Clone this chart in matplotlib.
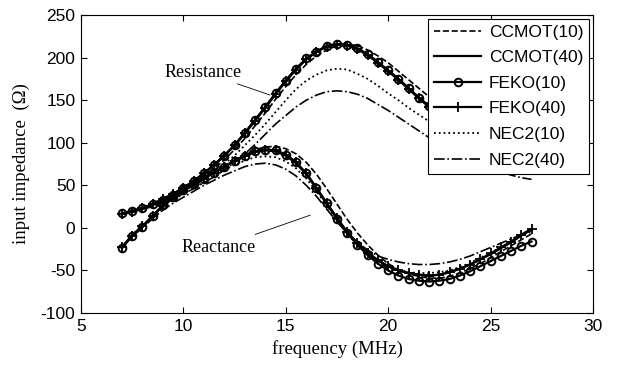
import numpy as np
import matplotlib
matplotlib.use("Agg")
import matplotlib.pyplot as plt

plt.rcParams["axes.unicode_minus"] = False

# frequency grid (MHz)
freq = np.arange(7, 27.5, 0.5)

# resistance (ohm)
ccmot10_r = [16, 19, 22, 26, 31, 37, 44, 52, 61, 70, 80, 92, 105, 120, 135, 151, 166, 180, 192, 202,
             209, 214, 216, 214, 209, 202, 194, 184, 174, 164, 154, 144, 135, 126, 118, 111, 104, 98, 92, 87, 83]
ccmot40_r = [17, 20, 23.5, 28, 34, 40, 47, 55, 64, 74, 85, 97, 111, 126, 142, 158, 173, 187, 198, 207,
             213, 216, 215, 210, 203, 194, 185, 175, 164, 153, 143, 133, 124, 116, 108, 101, 95, 89, 84, 79, 75]
feko10_r = [17, 20, 23, 28, 33, 39, 47, 55, 64, 74, 85, 97, 112, 127, 142, 158, 173, 187, 199, 207,
            214, 216, 215, 211, 204, 195, 185, 175, 164, 153, 143, 133, 124, 116, 108, 101, 95, 89, 84, 79, 75]
feko40_r = [16, 19, 23, 28, 34, 40, 47, 55, 64, 74, 85, 97, 111, 126, 141, 157, 172, 186, 198, 207,
            213, 215, 214, 210, 203, 194, 184, 174, 163, 152, 142, 132, 123, 115, 107, 100, 94, 88, 83, 78, 74]
nec10_r = [17, 19, 22, 26, 31, 37, 43, 50, 58, 66, 75, 85, 97, 109, 122, 136, 150, 163, 173, 180,
           185, 187, 186, 181, 175, 167, 158, 150, 141, 133, 125, 117, 109, 102, 95, 88, 82, 76, 71, 67, 64]
nec40_r = [17, 19, 22, 25, 30, 35, 40, 46, 53, 60, 68, 77, 87, 98, 110, 122, 132, 142, 150, 156,
           160, 161, 160, 157, 152, 145, 138, 130, 122, 114, 106, 99, 92, 86, 80, 75, 70, 66, 62, 59, 57]

# reactance (ohm)
ccmot10_x = [-22, -9, 1, 13, 25, 35, 43, 50, 57, 64, 71, 79, 86, 92, 95, 96, 93, 87, 77, 63,
             46, 28, 10, -6, -20, -32, -42, -49, -54, -57, -59, -59, -57, -53, -48, -42, -35, -28, -21, -14, -7]
ccmot40_x = [-23, -8, 2, 14, 26, 36, 44, 51, 58, 65, 72, 78, 84, 89, 91, 90, 85, 76, 63, 46,
             28, 11, -5, -18, -29, -38, -45, -50, -53, -55, -56, -55, -52, -48, -43, -37, -31, -24, -17, -9, -2]
feko10_x = [-24, -9, 1, 14, 27, 36, 44, 51, 58, 65, 72, 79, 85, 90, 92, 91, 86, 77, 64, 47,
            29, 11, -6, -20, -32, -42, -50, -56, -60, -62, -63, -62, -60, -56, -51, -45, -39, -33, -27, -21, -16]
feko40_x = [-23, -9, 2, 14, 26, 36, 44, 51, 58, 65, 72, 79, 85, 90, 92, 91, 86, 77, 64, 47,
            29, 12, -5, -18, -29, -38, -45, -50, -53, -55, -56, -55, -52, -48, -43, -37, -30, -23, -16, -8, -1]
nec10_x = [-23, -9, 1, 13, 24, 33, 40, 47, 54, 61, 68, 74, 79, 83, 84, 83, 78, 70, 58, 43,
           26, 9, -7, -20, -31, -39, -45, -49, -52, -53, -53, -52, -50, -46, -41, -35, -29, -23, -16, -10, -4]
nec40_x = [-23, -10, 0, 11, 21, 29, 36, 43, 50, 56, 62, 67, 72, 75, 76, 74, 69, 61, 50, 37,
           22, 7, -6, -17, -26, -33, -37, -40, -42, -43, -43, -42, -40, -37, -33, -28, -23, -18, -13, -8, -3]

labels = ["CCMOT(10)", "CCMOT(40)", "FEKO(10)", "FEKO(40)", "NEC2(10)", "NEC2(40)"]
res = [ccmot10_r, ccmot40_r, feko10_r, feko40_r, nec10_r, nec40_r]
rea = [ccmot10_x, ccmot40_x, feko10_x, feko40_x, nec10_x, nec40_x]
styles = [
    dict(ls="--", lw=1.2),
    dict(ls="-", lw=1.6),
    dict(ls="-", lw=1.6, marker="o", ms=5.5, mfc="none", mew=1.4),
    dict(ls="-", lw=1.6, marker="+", ms=7, mew=1.3),
    dict(ls=":", lw=1.3),
    dict(ls="-.", lw=1.2),
]

fig = plt.figure(figsize=(6.17, 3.67), dpi=100)
ax = fig.add_axes([0.1313, 0.147, 0.8297, 0.812])

for lab, r, x, st in zip(labels, res, rea, styles):
    ax.plot(freq, r, color="black", label=lab, **st)
    ax.plot(freq, x, color="black", **st)

ax.set_xlim(5, 30)
ax.set_ylim(-100, 250)
ax.set_xticks([5, 10, 15, 20, 25, 30])
ax.set_yticks([-100, -50, 0, 50, 100, 150, 200, 250])
ax.tick_params(direction="in", top=True, right=True, labelsize=12.5, length=4, pad=4)
for lbl in ax.get_xticklabels() + ax.get_yticklabels():
    lbl.set_fontfamily("Liberation Sans")

serif = "Liberation Serif"
ax.set_xlabel("frequency (MHz)", fontfamily=serif, fontsize=13.5, labelpad=5)
ax.set_ylabel("input impedance  (Ω)", fontfamily=serif, fontsize=13.5, labelpad=7.5)

ax.annotate("Resistance", xy=(14.24, 156), xytext=(12.85, 183), fontfamily=serif, fontsize=13,
            ha="right", va="center",
            arrowprops=dict(arrowstyle="-", color="black", lw=0.6, shrinkA=1, shrinkB=0))
ax.annotate("Reactance", xy=(16.2, 15), xytext=(13.55, -22.5), fontfamily=serif, fontsize=13,
            ha="right", va="center",
            arrowprops=dict(arrowstyle="-", color="black", lw=0.6, shrinkA=3, shrinkB=0))

leg = ax.legend(loc="upper right", prop={"family": "Liberation Sans", "size": 12.5},
                fancybox=False, edgecolor="black", framealpha=1, handlelength=2.7,
                labelspacing=0.6, borderaxespad=0.2, handletextpad=0.45, borderpad=0.35)
leg.get_frame().set_linewidth(0.8)

fig.savefig("out.png", dpi=100)
